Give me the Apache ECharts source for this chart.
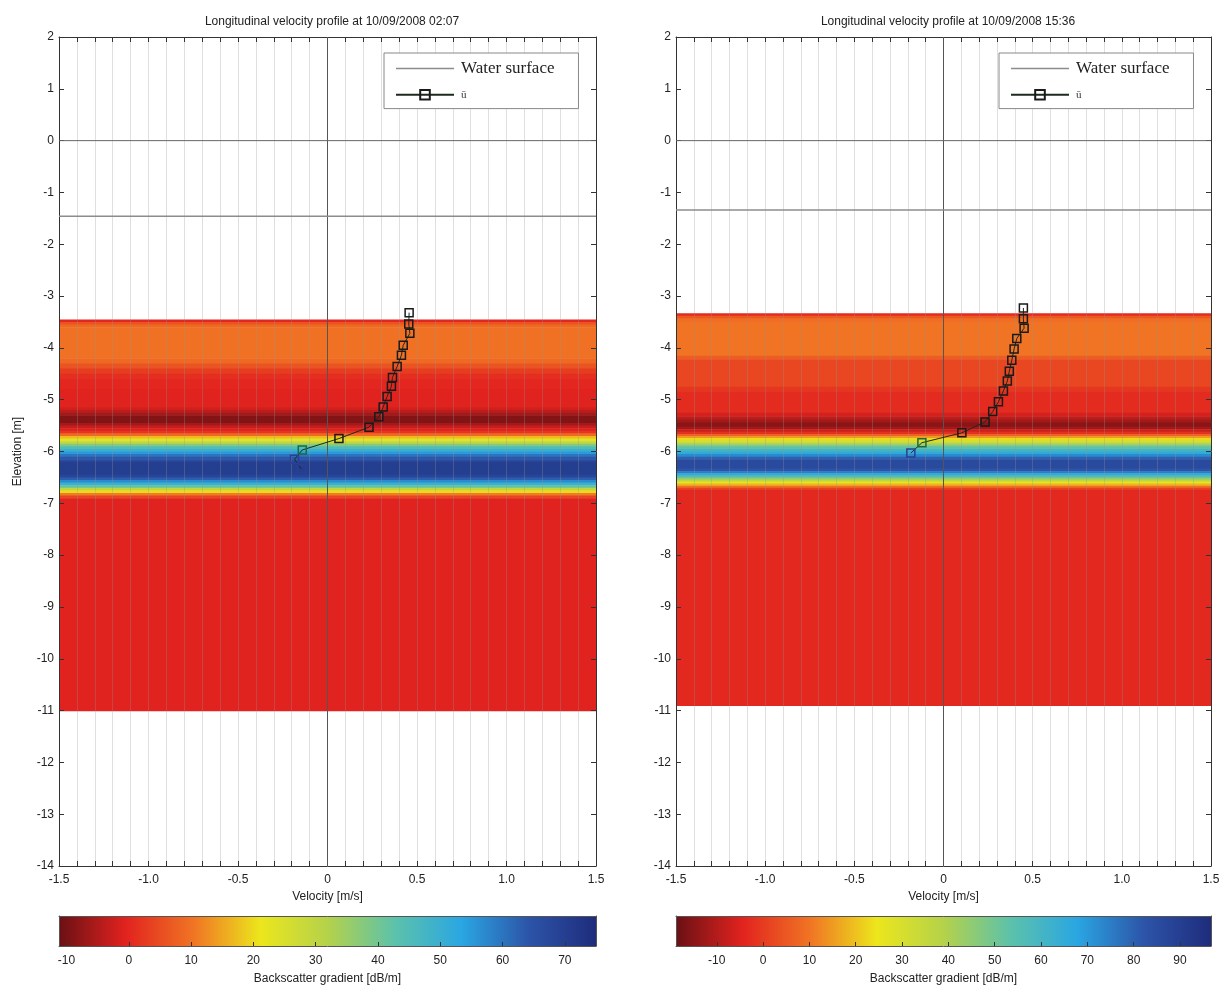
<!DOCTYPE html>
<html><head><meta charset="utf-8">
<script src="https://cdn.jsdelivr.net/npm/echarts@6/dist/echarts.min.js"></script>
<style>html,body{margin:0;padding:0;background:#fff}#c{width:1226px;height:992px}</style>
</head><body><div id="c"></div>
<script>
// ---------- DATA ----------
const panelTitles = ['Longitudinal velocity profile at 10/09/2008 02:07', 'Longitudinal velocity profile at 10/09/2008 15:36'];
const velocityTickLabels = ['-1.5', '-1.0', '-0.5', '0', '0.5', '1.0', '1.5'];
const legendNames = ['Water surface', 'ū'];

const leftWaterSurface = -1.46;
const rightWaterSurface = -1.34;

// mean velocity profile (u [m/s], elevation [m])
const leftProfileU = [0.456, 0.454, 0.460, 0.423, 0.413, 0.389, 0.363, 0.357, 0.333, 0.311, 0.287, 0.232, 0.064, -0.141, -0.184, -0.146];
const leftProfileZ = [-3.32, -3.54, -3.72, -3.95, -4.14, -4.36, -4.57, -4.74, -4.94, -5.14, -5.33, -5.53, -5.75, -5.97, -6.15, -6.34];
const rightProfileU = [0.448, 0.448, 0.452, 0.411, 0.396, 0.383, 0.369, 0.358, 0.336, 0.308, 0.276, 0.233, 0.103, -0.121, -0.183];
const rightProfileZ = [-3.23, -3.44, -3.62, -3.82, -4.02, -4.24, -4.45, -4.64, -4.83, -5.04, -5.23, -5.43, -5.64, -5.83, -6.03];

// backscatter gradient bands: top elevation of each band and its value [dB/m]
const leftBandZ = [-3.45, -3.50, -3.55, -3.60, -3.80, -4.00, -4.20, -4.30, -4.40, -4.50, -4.60, -4.80, -5.00, -5.15, -5.20, -5.25, -5.30, -5.40, -5.45, -5.50, -5.55, -5.60, -5.65, -5.70, -5.75, -5.80, -5.85, -5.90, -5.95, -6.00, -6.05, -6.10, -6.15, -6.20, -6.45, -6.50, -6.55, -6.60, -6.65, -6.70, -6.75, -6.80, -6.85, -6.90];
const leftBandValue = [0, 6, 9, 10, 10, 10, 9, 6, 3, 1, 0, -0.5, -0.5, -2, -4, -6, -9, -9, -6, -3, -1, 2, 9, 17, 23, 30, 38, 45, 50, 55, 60, 64, 67, 70, 68, 63, 57, 50, 42, 30, 20, 11, 4, -0.5];
const leftBandBottom = -11.0;

const rightBandZ = [-3.33, -3.38, -3.43, -3.50, -4.15, -4.22, -4.75, -4.85, -5.25, -5.32, -5.38, -5.44, -5.52, -5.57, -5.62, -5.66, -5.70, -5.74, -5.78, -5.82, -5.86, -5.90, -5.95, -6.00, -6.05, -6.10, -6.15, -6.33, -6.38, -6.42, -6.46, -6.50, -6.54, -6.58, -6.62, -6.66, -6.70, -6.74];
const rightBandValue = [-3, 5, 9, 10, 6, 2, -1, -3, -6, -9, -12, -15, -12, -7, -2, 7, 15, 23, 30, 38, 46, 53, 60, 66, 73, 80, 86, 82, 75, 66, 56, 46, 36, 26, 18, 9, 1, -3.5];
const rightBandBottom = -10.9;

const leftColorRange = [-11.2, 75];
const rightColorRange = [-18.8, 96.7];

// ---------- STYLE ----------
const jetColors = ['#6a1014', '#e2231f', '#f07424', '#ece61c', '#b5d24a', '#5cc2aa', '#2aa6e2', '#2c54a8', '#1f2c7c'];
const FONT = 'Liberation Sans, Arial, sans-serif';
const LBL = { color: '#222', fontFamily: FONT, fontSize: 12 };

function bands(z, v, bottom) {
  return z.map((t, i) => [t, i + 1 < z.length ? z[i + 1] : bottom, v[i]]);
}
function profile(u, z) {
  return u.map((x, i) => {
    const d = { value: [x, z[i]] };
    if (z[i] < -6.0) d.itemStyle = { borderColor: '#2b3f95' };
    else if (z[i] < -5.8) d.itemStyle = { borderColor: '#1f6a3a' };
    return d;
  });
}
function bandRender(params, api) {
  const p1 = api.coord([-1.5, api.value(0)]);
  const p2 = api.coord([1.5, api.value(1)]);
  return { type: 'rect', shape: { x: p1[0], y: p1[1], width: p2[0] - p1[0], height: p2[1] - p1[1] + 0.6 }, style: { fill: api.visual('color') } };
}
function colorbarRender(params, api) {
  const p1 = api.coord([api.value(0), 1]);
  const p2 = api.coord([api.value(1), 0]);
  const stops = jetColors.map((c, i) => ({ offset: i / (jetColors.length - 1), color: c }));
  return { type: 'rect', shape: { x: p1[0], y: p1[1], width: p2[0] - p1[0], height: p2[1] - p1[1] },
    style: { fill: new echarts.graphic.LinearGradient(0, 0, 1, 0, stops) } };
}

const grids = [
  { left: 59, top: 37, width: 537, height: 829 },
  { left: 676, top: 37, width: 535, height: 829 },
  { left: 59, top: 916, width: 537, height: 30 },
  { left: 676, top: 916, width: 535, height: 30 }
];

function mainX(grid, top) {
  return {
    type: 'value', gridIndex: grid, min: -1.5, max: 1.5, interval: 0.5, z: 3,
    position: top ? 'top' : 'bottom',
    axisLine: { show: true, onZero: false, lineStyle: { color: '#333', width: 1 } },
    axisTick: { show: true, inside: true, length: 5, lineStyle: { color: '#333' } },
    minorTick: { show: true, splitNumber: 5, length: 5, lineStyle: { color: '#333' } },
    splitLine: { show: !top, lineStyle: { color: 'rgba(150,150,150,0.3)', width: 1 } },
    minorSplitLine: { show: !top, lineStyle: { color: 'rgba(150,150,150,0.3)', width: 1 } },
    axisLabel: top ? { show: false } : Object.assign({ margin: 8, formatter: v => velocityTickLabels[Math.round((v + 1.5) / 0.5)] }, LBL),
    name: top ? '' : 'Velocity [m/s]', nameLocation: 'middle', nameGap: 25, nameTextStyle: LBL
  };
}
function mainY(grid, right, withName) {
  return {
    type: 'value', gridIndex: grid, min: -14, max: 2, interval: 1, z: 3,
    position: right ? 'right' : 'left',
    axisLine: { show: true, onZero: false, lineStyle: { color: '#333', width: 1 } },
    axisTick: { show: true, inside: true, length: 5, lineStyle: { color: '#333' } },
    splitLine: { show: false },
    axisLabel: right ? { show: false } : Object.assign({ margin: 5 }, LBL),
    name: withName ? 'Elevation [m]' : '', nameLocation: 'middle', nameGap: 35, nameTextStyle: LBL
  };
}
function cbX(grid, range, split) {
  return {
    type: 'value', gridIndex: grid, min: range[0], max: range[1], splitNumber: split, z: 3,
    axisLine: { show: true, onZero: false, lineStyle: { color: '#555' } },
    axisTick: { show: true, inside: true, length: 4, lineStyle: { color: '#333' } },
    splitLine: { show: false },
    axisLabel: Object.assign({ margin: 9, showMinLabel: false, showMaxLabel: false }, LBL),
    name: 'Backscatter gradient [dB/m]', nameLocation: 'middle', nameGap: 27, nameTextStyle: LBL
  };
}
function cbY(grid) {
  return { type: 'value', gridIndex: grid, min: 0, max: 1, z: 3, axisLabel: { show: false }, axisTick: { show: false }, splitLine: { show: false },
    axisLine: { show: true, onZero: false, lineStyle: { color: '#555' } } };
}
function cbYR(grid) {
  return Object.assign(cbY(grid), { position: 'right' });
}
function cbXT(grid, range) {
  return { type: 'value', gridIndex: grid, min: range[0], max: range[1], position: 'top', z: 3, axisLabel: { show: false }, axisTick: { show: false },
    splitLine: { show: false }, axisLine: { show: true, onZero: false, lineStyle: { color: '#555' } } };
}

function panelSeries(xi, yi, bandData, water, pu, pz) {
  return [
    { type: 'custom', xAxisIndex: xi, yAxisIndex: yi, z: 1, renderItem: bandRender, data: bandData, encode: { x: -1, y: [0, 1] }, silent: true },
    { type: 'line', name: 'zeroV', xAxisIndex: xi, yAxisIndex: yi, z: 4, symbol: 'none', silent: true,
      data: [[0, 2], [0, -14]], lineStyle: { color: '#555', width: 1 } },
    { type: 'line', name: 'zeroH', xAxisIndex: xi, yAxisIndex: yi, z: 4, symbol: 'none', silent: true,
      data: [[-1.5, 0], [1.5, 0]], lineStyle: { color: '#666', width: 1 } },
    { type: 'line', name: legendNames[0], xAxisIndex: xi, yAxisIndex: yi, z: 5, symbol: 'none',
      data: [[-1.5, water], [1.5, water]], lineStyle: { color: '#8c8c8c', width: 1.5 }, itemStyle: { color: '#8c8c8c' } },
    { type: 'line', name: legendNames[1], xAxisIndex: xi, yAxisIndex: yi, z: 6, symbol: 'rect', symbolSize: 8,
      data: profile(pu, pz), lineStyle: { color: '#1c2a1c', width: 1 },
      itemStyle: { color: 'rgba(0,0,0,0)', borderColor: '#1a1a1a', borderWidth: 1.5 } }
  ];
}

function legendAt(left) {
  return {
    left: left, top: 53, orient: 'vertical', z: 10,
    data: [
      { name: legendNames[0], icon: 'path://M0,0 L58,0 L58,1.6 L0,1.6 Z', itemStyle: { color: '#8c8c8c' } },
      { name: legendNames[1] }
    ],
    backgroundColor: '#fff', borderColor: '#888', borderWidth: 1, borderRadius: 0,
    padding: [7, 24, 8, 11], itemWidth: 58, itemHeight: 12, itemGap: 12,
    selectedMode: false,
    formatter: n => n === legendNames[0] ? '{a|' + n + '}' : '{b|' + n + '}',
    textStyle: { padding: [0, 0, 0, 2], rich: {
      a: { fontFamily: 'Liberation Serif, DejaVu Serif, serif', fontSize: 17, color: '#222' },
      b: { fontFamily: 'Liberation Serif, DejaVu Serif, serif', fontSize: 11, color: '#333' } } }
  };
}

const option = {
  animation: false,
  backgroundColor: '#fff',
  title: [
    { text: panelTitles[0], left: 327, top: 11, textAlign: 'center', textStyle: { fontFamily: FONT, fontSize: 12, fontWeight: 'normal', color: '#222' } },
    { text: panelTitles[1], left: 943, top: 11, textAlign: 'center', textStyle: { fontFamily: FONT, fontSize: 12, fontWeight: 'normal', color: '#222' } }
  ],
  grid: grids,
  legend: [legendAt(384), legendAt(999)],
  xAxis: [mainX(0, false), mainX(0, true), mainX(1, false), mainX(1, true),
          cbX(2, leftColorRange, 9), cbX(3, rightColorRange, 11), cbXT(2, leftColorRange), cbXT(3, rightColorRange)],
  yAxis: [mainY(0, false, true), mainY(0, true, false), mainY(1, false, false), mainY(1, true, false),
          cbY(2), cbY(3), cbYR(2), cbYR(3)],
  visualMap: [
    { type: 'continuous', show: false, min: leftColorRange[0], max: leftColorRange[1], dimension: 2, seriesIndex: 0, inRange: { color: jetColors } },
    { type: 'continuous', show: false, min: rightColorRange[0], max: rightColorRange[1], dimension: 2, seriesIndex: 5, inRange: { color: jetColors } }
  ],
  series: [].concat(
    panelSeries(0, 0, bands(leftBandZ, leftBandValue, leftBandBottom), leftWaterSurface, leftProfileU, leftProfileZ),
    panelSeries(2, 2, bands(rightBandZ, rightBandValue, rightBandBottom), rightWaterSurface, rightProfileU, rightProfileZ),
    [
      { type: 'custom', xAxisIndex: 4, yAxisIndex: 4, z: 1, silent: true, renderItem: colorbarRender, data: [leftColorRange], encode: { x: [0, 1], y: -1 } },
      { type: 'custom', xAxisIndex: 5, yAxisIndex: 5, z: 1, silent: true, renderItem: colorbarRender, data: [rightColorRange], encode: { x: [0, 1], y: -1 } }
    ]
  )
};

const chart = echarts.init(document.getElementById('c'), null, { renderer: 'canvas' });
chart.setOption(option);
</script>
</body></html>
